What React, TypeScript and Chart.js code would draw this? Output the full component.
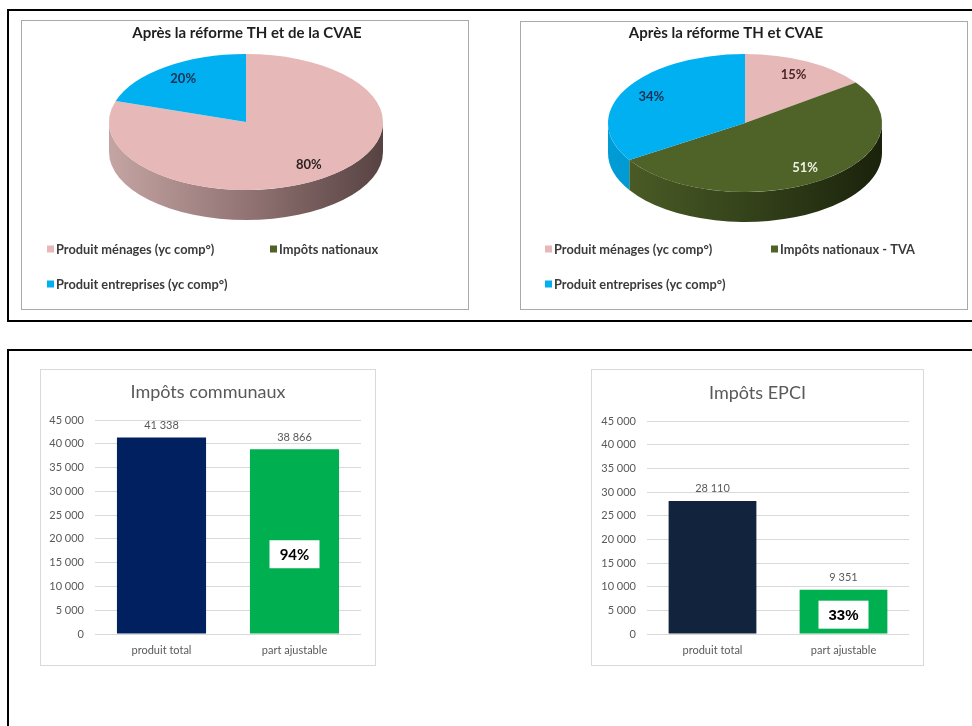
import React, { useEffect, useRef } from 'react';
import { Chart, registerables } from 'chart.js';

Chart.register(...registerables);

const FONT = 'Lato, "Open Sans", sans-serif';
Chart.defaults.font.family = FONT;

// ---------- DATA ----------
const pie1Title = 'Après la réforme TH et de la CVAE';
const pie1Labels = ['Produit ménages (yc comp°)', 'Impôts nationaux', 'Produit entreprises (yc comp°)'];
const pie1Values = [80, 0, 20];

const pie2Title = 'Après la réforme TH et CVAE';
const pie2Labels = ['Produit ménages (yc comp°)', 'Impôts nationaux - TVA', 'Produit entreprises (yc comp°)'];
const pie2Values = [15, 51, 34];

const pieColors = ['#e6b9b8', '#4f6228', '#00b0f0'];
const pieSideColors = [
  ['#c4a5a4', '#937474', '#574242'],
  ['#4d5f27', '#35431b', '#1a220b'],
  ['#009cd6', '#008fc4', '#0074a3'],
];
const pie1LabelColors = ['#2e2222', '#ffffff', '#1b2f52'];
const pie2LabelColors = ['#4a2626', '#eef0e2', '#1b2f52'];

const barCategories = ['produit total', 'part ajustable'];
const bar1Title = 'Impôts communaux';
const bar1Values = [41338, 38866];
const bar1Colors = ['#002060', '#00b050'];
const bar2Title = 'Impôts EPCI';
const bar2Values = [28110, 9351];
const bar2Colors = ['#12233e', '#00b050'];
const yMax = 45000;
const yStep = 5000;

// ---------- helpers ----------
const fmt = (v: number) => String(Math.round(v)).replace(/\B(?=(\d{3})+(?!\d))/g, ' ');

const pie3dPlugin = {
  id: 'pie3d',
  beforeDatasetsDraw(chart: any, _args: any, opts: any) {
    const { cx, cy, rx, ry, depth } = opts;
    const ctx = chart.ctx as CanvasRenderingContext2D;
    const meta = chart.getDatasetMeta(0);
    // side walls (front half only)
    meta.data.forEach((arc: any, i: number) => {
      const s = arc.startAngle;
      const e = arc.endAngle;
      if (e - s <= 1e-6) return;
      for (const k of [-2, 0, 2]) {
        const a = Math.max(s, k * Math.PI);
        const b = Math.min(e, (k + 1) * Math.PI);
        if (b - a <= 1e-6) continue;
        ctx.save();
        ctx.beginPath();
        ctx.ellipse(cx, cy, rx, ry, 0, a, b, false);
        ctx.ellipse(cx, cy + depth, rx, ry, 0, b, a, true);
        ctx.closePath();
        const g = ctx.createLinearGradient(cx - rx, 0, cx + rx, 0);
        const st = pieSideColors[i];
        g.addColorStop(0, st[0]);
        g.addColorStop(0.5, st[1]);
        g.addColorStop(1, st[2]);
        ctx.fillStyle = g;
        ctx.fill();
        ctx.restore();
      }
    });
    // flatten the top face to an ellipse
    const a0 = meta.data[0];
    ctx.save();
    ctx.translate(cx, cy);
    ctx.scale(rx / a0.outerRadius, ry / a0.outerRadius);
    ctx.translate(-a0.x, -a0.y);
  },
  afterDatasetsDraw(chart: any, _args: any, opts: any) {
    const ctx = chart.ctx as CanvasRenderingContext2D;
    ctx.restore();
    const { cx, cy, rx, ry, labelColors } = opts;
    const meta = chart.getDatasetMeta(0);
    const values = chart.data.datasets[0].data as number[];
    ctx.save();
    ctx.font = `bold 13px ${FONT}`;
    ctx.textAlign = 'center';
    ctx.textBaseline = 'middle';
    meta.data.forEach((arc: any, i: number) => {
      if (!values[i]) return;
      const mid = (arc.startAngle + arc.endAngle) / 2;
      ctx.fillStyle = labelColors[i];
      ctx.fillText(`${values[i]}%`, cx + 0.78 * rx * Math.cos(mid), cy + 0.78 * ry * Math.sin(mid));
    });
    ctx.restore();
  },
  afterDraw(chart: any, _args: any, opts: any) {
    const ctx = chart.ctx as CanvasRenderingContext2D;
    const { title, titleX, titleY, legendCols, legendRows } = opts;
    ctx.save();
    ctx.fillStyle = '#1f1f1f';
    ctx.font = `bold 15px ${FONT}`;
    ctx.textAlign = 'center';
    ctx.textBaseline = 'middle';
    ctx.fillText(title, titleX, titleY);
    ctx.font = `bold 12.8px ${FONT}`;
    ctx.textAlign = 'left';
    const labels = chart.data.labels as string[];
    const colors = chart.data.datasets[0].backgroundColor as string[];
    labels.forEach((lab, i) => {
      const x = legendCols[i % 2];
      const y = legendRows[Math.floor(i / 2)];
      ctx.fillStyle = colors[i];
      ctx.fillRect(x, y - 3.5, 7, 7);
      ctx.fillStyle = '#3a3a3a';
      ctx.fillText(lab, x + 9, y + 0.5);
    });
    ctx.restore();
  },
};

const barLabelsPlugin = {
  id: 'barLabels',
  afterDatasetsDraw(chart: any, _args: any, opts: any) {
    const ctx = chart.ctx as CanvasRenderingContext2D;
    const meta = chart.getDatasetMeta(0);
    const values = chart.data.datasets[0].data as number[];
    ctx.save();
    ctx.font = `11px ${FONT}`;
    ctx.fillStyle = '#595959';
    ctx.textAlign = 'center';
    ctx.textBaseline = 'middle';
    meta.data.forEach((bar: any, i: number) => {
      ctx.fillText(fmt(values[i]), bar.x, bar.y - 12);
    });
    const b = meta.data[1];
    const pct = Math.round((values[1] / values[0]) * 100);
    const yc = b.y + (b.base - b.y) * 0.57;
    ctx.fillStyle = '#ffffff';
    ctx.fillRect(b.x - 25, yc - 14, 50, 28);
    ctx.fillStyle = '#000000';
    ctx.font = opts.pctFont;
    ctx.fillText(`${pct}%`, b.x, yc + 1);
    ctx.restore();
  },
  afterDraw(chart: any, _args: any, opts: any) {
    const ctx = chart.ctx as CanvasRenderingContext2D;
    ctx.save();
    ctx.font = `18px ${FONT}`;
    ctx.fillStyle = '#595959';
    ctx.textAlign = 'center';
    ctx.textBaseline = 'middle';
    ctx.fillText(opts.title, chart.width / 2, opts.titleY);
    ctx.restore();
  },
};

// ---------- components ----------
function Pie3D(props: {
  title: string; labels: string[]; values: number[]; labelColors: string[];
  width: number; height: number; geom: any;
}) {
  const ref = useRef<HTMLCanvasElement>(null);
  useEffect(() => {
    const chart = new Chart(ref.current as HTMLCanvasElement, {
      type: 'pie',
      data: {
        labels: props.labels,
        datasets: [{
          data: props.values,
          backgroundColor: pieColors,
          borderWidth: 0,
          hoverOffset: 0,
          clip: false,
        } as any],
      },
      options: {
        animation: false,
        responsive: false,
        events: [],
        layout: { padding: 0 },
        plugins: {
          legend: { display: false },
          tooltip: { enabled: false },
          title: { display: false },
          pie3d: { ...props.geom, title: props.title, labelColors: props.labelColors },
        } as any,
      },
      plugins: [pie3dPlugin],
    });
    return () => chart.destroy();
  }, []);
  return (
    <canvas
      ref={ref}
      width={props.width}
      height={props.height}
      style={{ position: 'absolute', left: 0, top: 0, width: props.width, height: props.height }}
    />
  );
}

function BarChart(props: {
  title: string; values: number[]; colors: string[]; width: number; height: number;
  yWidth: number; padRight: number; padTop: number; titleY: number; pctFont: string;
}) {
  const ref = useRef<HTMLCanvasElement>(null);
  useEffect(() => {
    const chart = new Chart(ref.current as HTMLCanvasElement, {
      type: 'bar',
      data: {
        labels: barCategories,
        datasets: [{
          data: props.values,
          backgroundColor: props.colors,
          borderWidth: 0,
          barPercentage: 0.67,
          categoryPercentage: 1,
        }],
      },
      options: {
        animation: false,
        responsive: false,
        events: [],
        layout: { padding: { left: 0, right: props.padRight, top: props.padTop, bottom: 0 } },
        plugins: {
          legend: { display: false },
          tooltip: { enabled: false },
          title: { display: false },
          barLabels: { pctFont: props.pctFont, title: props.title, titleY: props.titleY },
        } as any,
        scales: {
          x: {
            grid: { display: false, drawTicks: false },
            border: { display: false },
            ticks: { color: '#595959', font: { family: FONT, size: 11 }, padding: 10 },
            afterFit: (s: any) => { s.height = 31; },
          },
          y: {
            min: 0,
            max: yMax,
            grid: { color: '#d9d9d9', drawTicks: false },
            border: { display: false },
            ticks: {
              stepSize: yStep,
              color: '#595959',
              font: { family: FONT, size: 11 },
              padding: 11,
              callback: (v: any) => fmt(Number(v)),
            },
            afterFit: (s: any) => { s.width = props.yWidth; },
          },
        },
      } as any,
      plugins: [barLabelsPlugin],
    });
    return () => chart.destroy();
  }, []);
  return (
    <canvas
      ref={ref}
      width={props.width}
      height={props.height}
      style={{ position: 'absolute', left: 0, top: 0, width: props.width, height: props.height }}
    />
  );
}

export default function App() {
  const abs = (l: number, t: number, w: number, h: number, extra: any = {}) => ({
    position: 'absolute' as const, left: l, top: t, width: w, height: h, ...extra,
  });
  return (
    <div style={abs(0, 0, 972, 726, { overflow: 'hidden', background: '#fff' })}>
      <div style={abs(7, 9, 1000, 309, { border: '2px solid #000' })} />
      <div style={abs(7, 349, 1000, 500, { border: '2px solid #000' })} />

      <div style={abs(21, 20, 446, 288, { border: '1px solid #a9a9a9', background: '#fff' })}>
        <Pie3D
          title={pie1Title}
          labels={pie1Labels}
          values={pie1Values}
          labelColors={pie1LabelColors}
          width={446}
          height={288}
          geom={{ cx: 224, cy: 101, rx: 137, ry: 68, depth: 30, titleX: 225, titleY: 12,
            legendCols: [25, 248], legendRows: [228, 263] }}
        />
      </div>

      <div style={abs(520, 21, 446, 287, { border: '1px solid #a9a9a9', background: '#fff' })}>
        <Pie3D
          title={pie2Title}
          labels={pie2Labels}
          values={pie2Values}
          labelColors={pie2LabelColors}
          width={446}
          height={287}
          geom={{ cx: 224, cy: 101, rx: 137, ry: 69, depth: 30, titleX: 205, titleY: 11,
            legendCols: [24, 250], legendRows: [227, 262] }}
        />
      </div>

      <div style={abs(40, 369, 334, 295, { border: '1px solid #d9d9d9', background: '#fff' })}>
        <BarChart
          title={bar1Title}
          values={bar1Values}
          colors={bar1Colors}
          width={334}
          height={295}
          yWidth={54}
          padRight={14}
          padTop={50}
          titleY={22}
          pctFont={`bold 15px ${FONT}`}
        />
      </div>

      <div style={abs(591, 369, 331, 295, { border: '1px solid #d9d9d9', background: '#fff' })}>
        <BarChart
          title={bar2Title}
          values={bar2Values}
          colors={bar2Colors}
          width={331}
          height={295}
          yWidth={55}
          padRight={14}
          padTop={51}
          titleY={23}
          pctFont={`bold 15px "Liberation Sans", Arial, sans-serif`}
        />
      </div>
    </div>
  );
}
